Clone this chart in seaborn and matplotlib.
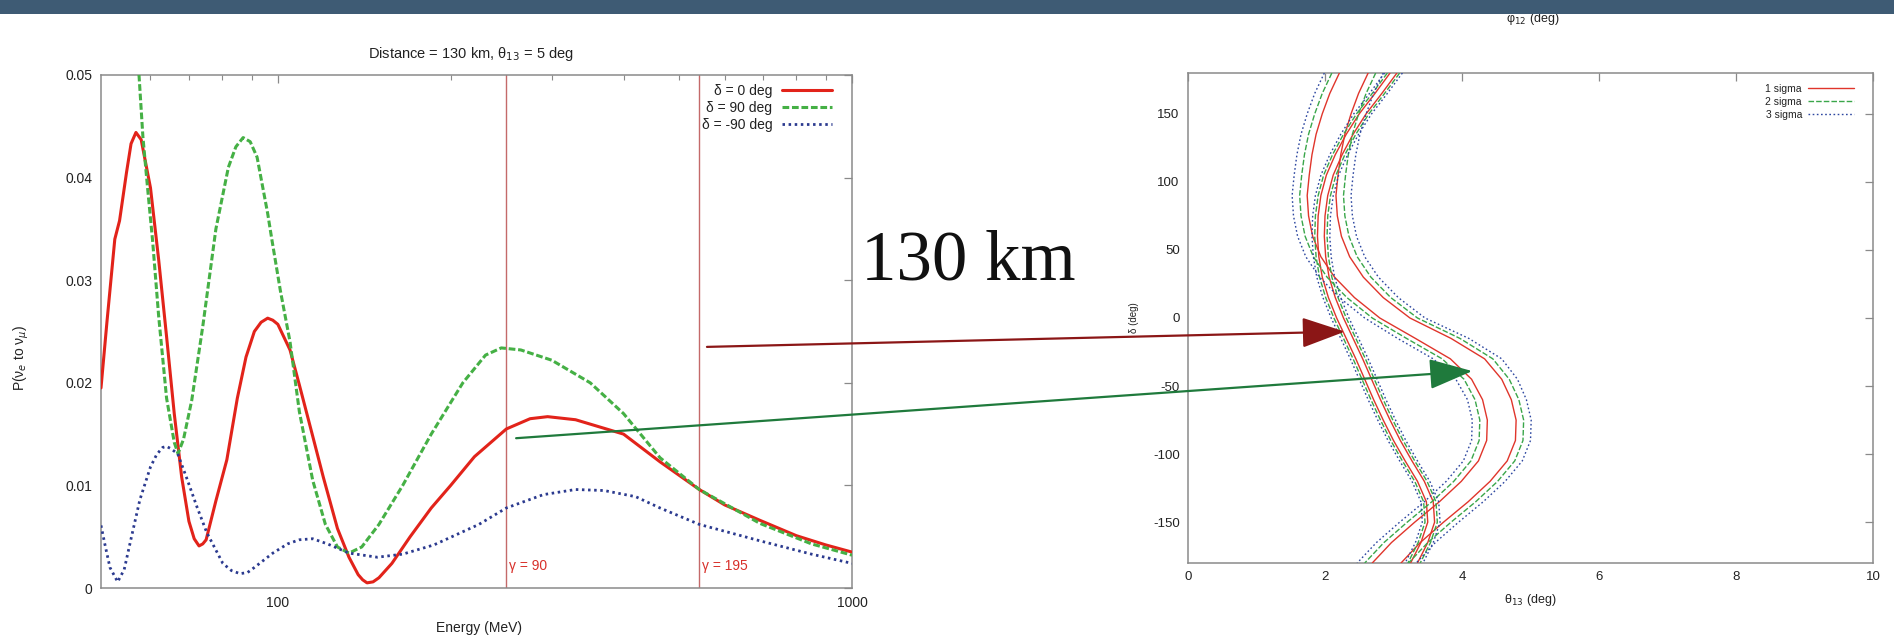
import matplotlib
matplotlib.use("Agg")
import matplotlib.pyplot as plt
import numpy as np
import pandas as pd
import seaborn as sns
from matplotlib.patches import Rectangle, ConnectionPatch
from matplotlib.lines import Line2D
from matplotlib.ticker import FixedLocator, FixedFormatter, NullFormatter

# ---------------- left panel: P(nu_e -> nu_mu) versus energy ----------------
energy_d0 = [49.2, 50.4, 52.0, 53.0, 54.5, 55.5, 56.6, 57.8, 60, 62, 64, 66, 68, 70,
             71.5, 72.9, 74, 75, 78, 81.5, 85, 88, 91, 93.5, 96, 98, 100, 105, 109, 115,
             120, 127, 133, 138, 140.5, 143, 146.5, 150, 158, 170, 185, 200, 220, 250,
             275, 295, 330, 400, 463, 542, 600, 691, 800, 900, 1000]
prob_d0 = [0.0195, 0.0260, 0.0340, 0.0358, 0.0405, 0.0433, 0.0444, 0.0437, 0.0390,
           0.0320, 0.0245, 0.0170, 0.0108, 0.0065, 0.0048, 0.0041, 0.0043, 0.0047,
           0.0085, 0.0125, 0.0185, 0.0225, 0.0250, 0.0259, 0.0263, 0.0261, 0.0257,
           0.0232, 0.0198, 0.0148, 0.0108, 0.0058, 0.0030, 0.0013, 0.0008, 0.0005,
           0.0006, 0.0010, 0.0024, 0.0050, 0.0078, 0.0100, 0.0128, 0.0155, 0.0165,
           0.0167, 0.0164, 0.0150, 0.0123, 0.0096, 0.0081, 0.0066, 0.0051, 0.0042,
           0.0035]

energy_d90 = [56.5, 57.3, 58.2, 59.3, 60.5, 62, 64, 66, 67, 68.5, 70.8, 74, 78, 82,
              84.5, 87, 89.5, 92, 96, 97.6, 101, 105, 109, 115, 121, 127, 133, 140, 150,
              165, 185, 210, 230, 245, 265, 300, 350, 400, 463, 542, 691, 850, 1000]
prob_d90 = [0.0580, 0.0500, 0.0440, 0.0390, 0.0339, 0.0265, 0.0185, 0.0142, 0.0131,
            0.0145, 0.0183, 0.0255, 0.0350, 0.0410, 0.0430, 0.0439, 0.0435, 0.0420,
            0.0365, 0.0340, 0.0290, 0.0240, 0.0172, 0.0105, 0.0062, 0.0040, 0.0034,
            0.0040, 0.0062, 0.0100, 0.0150, 0.0200, 0.0227, 0.0234, 0.0232, 0.0222,
            0.0200, 0.0170, 0.0127, 0.0096, 0.0063, 0.0043, 0.0032]

energy_dm90 = [49.2, 50, 51, 52.6, 54, 55.5, 57.5, 60, 61.5, 63, 64, 65, 66.9, 69.5,
               72.3, 75.2, 80.2, 83, 85.9, 88.5, 91, 98, 104, 109, 115, 122, 133, 149,
               165, 187, 224, 250, 290, 330, 370, 420, 463, 542, 691, 850, 1000]
prob_dm90 = [0.0061, 0.0042, 0.0020, 0.0006, 0.0018, 0.0048, 0.0086, 0.0118, 0.0130,
             0.0137, 0.0138, 0.0136, 0.0131, 0.0106, 0.0079, 0.0054, 0.0024, 0.0017,
             0.0014, 0.0015, 0.0020, 0.0034, 0.0043, 0.0047, 0.0048, 0.0043, 0.0034,
             0.0030, 0.0033, 0.0042, 0.0062, 0.0078, 0.0091, 0.0096, 0.0095, 0.0089,
             0.0078, 0.0062, 0.0046, 0.0033, 0.0024]

phase_labels = ["δ = 0 deg", "δ = 90 deg", "δ = -90 deg"]
gamma_energy = [250, 542]
gamma_labels = ["γ = 90", "γ = 195"]

# ---------------- right panel: sensitivity contours in (theta13, delta) -----
delta_grid = [180, 165, 150, 135, 120, 105, 90, 75, 60, 45, 30, 15, 0,
              -15, -30, -45, -60, -75, -90, -105, -120, -135, -150, -165, -180]

# wide band
wide_1s_left = [2.21, 2.07, 1.96, 1.87, 1.81, 1.77, 1.74, 1.76, 1.82, 1.94, 2.14, 2.43, 2.80,
                3.32, 3.83, 4.14, 4.30, 4.37, 4.36, 4.24, 3.99, 3.67, 3.31, 2.97, 2.69]
wide_1s_right = [2.63, 2.49, 2.38, 2.29, 2.23, 2.19, 2.16, 2.18, 2.24, 2.36, 2.56, 2.85, 3.24,
                 3.84, 4.33, 4.58, 4.72, 4.79, 4.78, 4.66, 4.41, 4.09, 3.73, 3.39, 3.11]
wide_2s_left = [2.10, 1.96, 1.85, 1.76, 1.70, 1.66, 1.63, 1.65, 1.71, 1.83, 2.03, 2.32, 2.69,
                3.19, 3.71, 4.03, 4.19, 4.26, 4.25, 4.13, 3.88, 3.56, 3.20, 2.86, 2.58]
wide_2s_right = [2.74, 2.60, 2.49, 2.40, 2.34, 2.30, 2.27, 2.29, 2.35, 2.47, 2.67, 2.96, 3.35,
                 3.97, 4.45, 4.69, 4.83, 4.90, 4.89, 4.77, 4.52, 4.20, 3.84, 3.50, 3.22]
wide_3s_left = [1.99, 1.85, 1.74, 1.65, 1.59, 1.55, 1.52, 1.54, 1.60, 1.72, 1.92, 2.21, 2.58,
                3.06, 3.58, 3.91, 4.08, 4.15, 4.14, 4.02, 3.77, 3.45, 3.09, 2.75, 2.47]
wide_3s_right = [2.85, 2.71, 2.60, 2.51, 2.45, 2.41, 2.38, 2.40, 2.46, 2.58, 2.78, 3.07, 3.46,
                 4.10, 4.58, 4.81, 4.94, 5.01, 5.00, 4.88, 4.63, 4.31, 3.95, 3.61, 3.33]

# narrow band
narrow_1s_left = [2.95, 2.73, 2.50, 2.31, 2.15, 2.02, 1.94, 1.90, 1.89, 1.91, 1.96, 2.05, 2.17,
                  2.31, 2.45, 2.58, 2.71, 2.85, 3.00, 3.17, 3.35, 3.48, 3.50, 3.40, 3.25]
narrow_1s_right = [3.05, 2.83, 2.60, 2.41, 2.25, 2.12, 2.04, 2.00, 1.99, 2.01, 2.06, 2.15, 2.27,
                   2.41, 2.55, 2.68, 2.81, 2.95, 3.10, 3.27, 3.45, 3.58, 3.60, 3.50, 3.35]
narrow_2s_left = [2.91, 2.69, 2.46, 2.27, 2.11, 1.98, 1.90, 1.86, 1.85, 1.87, 1.92, 2.01, 2.13,
                  2.27, 2.41, 2.54, 2.67, 2.81, 2.96, 3.13, 3.31, 3.44, 3.46, 3.36, 3.21]
narrow_2s_right = [3.09, 2.87, 2.64, 2.45, 2.29, 2.16, 2.08, 2.04, 2.03, 2.05, 2.10, 2.19, 2.31,
                   2.45, 2.59, 2.72, 2.85, 2.99, 3.14, 3.31, 3.49, 3.62, 3.64, 3.54, 3.39]
narrow_3s_left = [2.87, 2.65, 2.42, 2.23, 2.07, 1.94, 1.86, 1.82, 1.81, 1.83, 1.88, 1.97, 2.09,
                  2.23, 2.37, 2.50, 2.63, 2.77, 2.92, 3.09, 3.27, 3.40, 3.42, 3.32, 3.17]
narrow_3s_right = [3.13, 2.91, 2.68, 2.49, 2.33, 2.20, 2.12, 2.08, 2.07, 2.09, 2.14, 2.23, 2.35,
                   2.49, 2.63, 2.76, 2.89, 3.03, 3.18, 3.35, 3.53, 3.66, 3.68, 3.58, 3.43]

sigma_labels = ["1 sigma", "2 sigma", "3 sigma"]

# arrow end points: (energy, probability) on the left, (theta13, delta) on the right
arrow_red_start = (559, 0.0235)
arrow_red_end = (2.29, -10)
arrow_green_start = (260, 0.0146)
arrow_green_end = (4.15, -39)

# ---------------- styling ----------------
sns.set_style("white")
plt.rcParams["font.family"] = ["Liberation Sans", "DejaVu Sans"]
plt.rcParams["axes.unicode_minus"] = False
plt.rcParams["mathtext.fontset"] = "dejavusans"

W, H = 1894, 640
fig = plt.figure(figsize=(W / 100, H / 100), dpi=100)
fig.patch.set_facecolor("white")


def fx(px):
    return px / W


def fy(py):
    return 1 - py / H


txt = "#222222"
spine_c = "#8a8a8a"

ax1 = fig.add_axes([fx(101), fy(588), (852 - 101) / W, (588 - 75) / H])
ax2 = fig.add_axes([fx(1188), fy(563), (1873 - 1188) / W, (563 - 73) / H])

# ---- left curves
left_df = pd.concat([
    pd.DataFrame({"energy": energy_d0, "prob": prob_d0, "phase": phase_labels[0]}),
    pd.DataFrame({"energy": energy_d90, "prob": prob_d90, "phase": phase_labels[1]}),
    pd.DataFrame({"energy": energy_dm90, "prob": prob_dm90, "phase": phase_labels[2]}),
], ignore_index=True)

left_colors = {phase_labels[0]: "#e2231a", phase_labels[1]: "#45b045", phase_labels[2]: "#2b3a8f"}
left_dashes = {phase_labels[0]: "", phase_labels[1]: (2.2, 0.9), phase_labels[2]: (0.9, 1.3)}
left_widths = {phase_labels[0]: 2.2, phase_labels[1]: 2.2, phase_labels[2]: 2.0}

for lab in phase_labels:
    sub = left_df[left_df["phase"] == lab]
    sns.lineplot(data=sub, x="energy", y="prob", ax=ax1, color=left_colors[lab],
                 dashes=False, estimator=None, sort=False, legend=False,
                 linewidth=left_widths[lab], zorder=3)
    line = ax1.lines[-1]
    line.set_solid_joinstyle("round")
    if left_dashes[lab]:
        line.set_dashes(left_dashes[lab])

for e, lab in zip(gamma_energy, gamma_labels):
    ax1.axvline(e, color="#c46a6a", lw=1.0, zorder=2)
    ax1.text(e * 1.012, 0.0021, lab, color="#d8302a", fontsize=10, ha="left",
             va="center", zorder=4)

ax1.set_xscale("log")
ax1.set_xlim(49.2, 1000)
ax1.set_ylim(0, 0.05)
ax1.xaxis.set_major_locator(FixedLocator([100, 1000]))
ax1.xaxis.set_major_formatter(FixedFormatter(["100", "1000"]))
ax1.xaxis.set_minor_locator(FixedLocator([60, 70, 80, 90, 200, 300, 400, 500, 600, 700, 800, 900]))
ax1.xaxis.set_minor_formatter(NullFormatter())
ax1.yaxis.set_major_locator(FixedLocator([0, 0.01, 0.02, 0.03, 0.04, 0.05]))
ax1.yaxis.set_major_formatter(FixedFormatter(["0", "0.01", "0.02", "0.03", "0.04", "0.05"]))
ax1.set_xlabel("")
ax1.set_ylabel("")

leg_handles = [Line2D([], [], color=left_colors[l], lw=left_widths[l],
                      dashes=left_dashes[l] if left_dashes[l] else (None, None))
               for l in phase_labels]
leg1 = ax1.legend(leg_handles, phase_labels, loc="upper right",
                  bbox_to_anchor=((832 - 101) / 751, (588 - 84) / 513),
                  markerfirst=False, frameon=False, fontsize=10, handlelength=3.6,
                  handletextpad=0.7, labelspacing=0.22, borderpad=0, borderaxespad=0)
for t in leg1.get_texts():
    t.set_color(txt)

# ---- right contours
curve_sets = [
    (wide_1s_left, sigma_labels[0]), (wide_1s_right, sigma_labels[0]),
    (wide_2s_left, sigma_labels[1]), (wide_2s_right, sigma_labels[1]),
    (wide_3s_left, sigma_labels[2]), (wide_3s_right, sigma_labels[2]),
    (narrow_1s_left, sigma_labels[0]), (narrow_1s_right, sigma_labels[0]),
    (narrow_2s_left, sigma_labels[1]), (narrow_2s_right, sigma_labels[1]),
    (narrow_3s_left, sigma_labels[2]), (narrow_3s_right, sigma_labels[2]),
]
right_df = pd.concat([
    pd.DataFrame({"theta": th, "delta": delta_grid, "level": lev, "curve": i})
    for i, (th, lev) in enumerate(curve_sets)
], ignore_index=True)

right_colors = {sigma_labels[0]: "#e0352b", sigma_labels[1]: "#3aa64a", sigma_labels[2]: "#2d47a0"}
right_dashes = {sigma_labels[0]: "", sigma_labels[1]: (4, 1.5), sigma_labels[2]: (1.2, 1.8)}

sns.lineplot(data=right_df, x="theta", y="delta", hue="level", style="level",
             units="curve", estimator=None, sort=False, palette=right_colors,
             dashes=right_dashes, hue_order=sigma_labels, style_order=sigma_labels,
             linewidth=1.0, ax=ax2, legend=False, zorder=3)

ax2.set_xlim(0, 10)
ax2.set_ylim(-180, 180)
ax2.xaxis.set_major_locator(FixedLocator([0, 2, 4, 6, 8, 10]))
ax2.yaxis.set_major_locator(FixedLocator([-150, -100, -50, 0, 50, 100, 150]))
ax2.set_xlabel("")
ax2.set_ylabel("")

leg_handles2 = [Line2D([], [], color=right_colors[l], lw=1.0,
                       dashes=right_dashes[l] if right_dashes[l] else (None, None))
                for l in sigma_labels]
leg2 = ax2.legend(leg_handles2, sigma_labels, loc="upper right",
                  bbox_to_anchor=((1854 - 1188) / 685, (563 - 84) / 490),
                  markerfirst=False, frameon=False, fontsize=7.5, handlelength=4.4,
                  handletextpad=0.6, labelspacing=0.28, borderpad=0, borderaxespad=0)
for t in leg2.get_texts():
    t.set_color(txt)

# ---- frames and ticks in the gnuplot manner
for ax, fs in ((ax1, 10), (ax2, 9.5)):
    for sp in ax.spines.values():
        sp.set_color(spine_c)
        sp.set_linewidth(1.1)
        sp.set_visible(True)
    ax.tick_params(which="major", direction="in", top=True, right=True, length=6,
                   width=0.9, color=spine_c, labelsize=fs, labelcolor=txt, pad=6)
    ax.tick_params(which="minor", direction="in", top=True, right=True, length=3.5,
                   width=0.8, color=spine_c)
    ax.set_facecolor("white")

# ---- free-standing labels
fig.text(fx(471), fy(54), "Distance = 130 km, θ$_{13}$ = 5 deg", ha="center",
         va="center", fontsize=10.5, color=txt)
fig.text(fx(479), fy(628), "Energy (MeV)", ha="center", va="center", fontsize=10,
         color=txt)
fig.text(fx(21), fy(358), "P(ν$_e$ to ν$_μ$)", ha="center", va="center", rotation=90,
         fontsize=10, color=txt)
fig.text(fx(1530), fy(600), "θ$_{13}$ (deg)", ha="center", va="center", fontsize=9,
         color=txt)
fig.text(fx(1134), fy(318), "δ (deg)", ha="center", va="center", rotation=90,
         fontsize=7, color=txt)
fig.text(fx(1533), fy(19), "φ$_{12}$ (deg)", ha="center", va="center", fontsize=9,
         color=txt)
fig.text(fx(861), fy(280), "130 km", ha="left", va="baseline", fontsize=51,
         family="Liberation Serif", color="#111111")

# ---- arrows linking the two panels
for start, end, col in ((arrow_red_start, arrow_red_end, "#8b1616"),
                        (arrow_green_start, arrow_green_end, "#1f7a3c")):
    con = ConnectionPatch(xyA=start, coordsA=ax1.transData, xyB=end,
                          coordsB=ax2.transData,
                          arrowstyle="-|>,head_length=2.7,head_width=0.95",
                          mutation_scale=10, lw=1.6, color=col, zorder=6)
    fig.add_artist(con)

# ---- header band
fig.add_artist(Rectangle((0, fy(14)), 1, 14 / H, transform=fig.transFigure,
                         facecolor="#3e5b74", edgecolor="none", zorder=20))

fig.savefig("out.png", dpi=100, facecolor="white")
